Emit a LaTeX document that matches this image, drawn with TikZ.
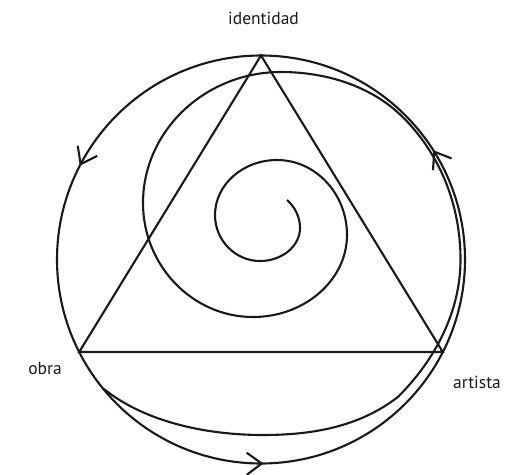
\documentclass[tikz,border=0pt]{standalone}
\usepackage{fontspec}
\setmainfont{PT Sans}
\usetikzlibrary{arrows.meta,decorations.markings}
\begin{document}
\begin{tikzpicture}[x=1pt,y=1pt,
  ln/.style={line width=2.1pt, draw=black!90},
  lbl/.style={inner sep=0pt, anchor=base, font=\fontsize{17.5}{20}\selectfont, text=black!90},
  barb/.tip={Straight Barb[length=15pt,width=22pt]}]
\useasboundingbox (0,0) rectangle (519,-474);
\coordinate (C) at (261,-259.5);
\coordinate (T) at (261,-55.5);
\coordinate (L) at (79.2,-352);
\coordinate (R) at (442.8,-352);
% circle with arrows
\draw[ln, postaction={decorate}, decoration={markings,
  mark=at position 0.09 with {\arrow[line width=2.1pt]{barb}},
  mark=at position 0.424 with {\arrow[line width=2.1pt]{barb}},
  mark=at position 0.752 with {\arrow[line width=2.1pt]{barb}}}]
  (C) circle[radius=204pt];
% triangle
\draw[ln] (T) -- (L) -- (R) -- cycle;
% spiral
\draw[ln] (287,-200) .. controls (295,-207) and (300,-217) .. (300,-228)
 .. controls (300,-246.2) and (282,-261) .. (260,-261)
 .. controls (235.2,-261) and (215,-240.3) .. (215,-215)
 .. controls (215,-184.7) and (242.9,-160) .. (277,-160)
 .. controls (315.6,-160) and (347,-193.7) .. (347,-235)
 .. controls (347,-280.1) and (304.7,-317) .. (253,-317)
 .. controls (192.5,-317) and (143,-265.7) .. (143,-203)
 .. controls (143,-130.9) and (205.1,-72) .. (281,-72)
 .. controls (325.7,-72) and (371.5,-85.8) .. (403.1,-117.4)
 .. controls (440.8,-155.1) and (460.5,-206.2) .. (460.5,-259.5)
 .. controls (460.5,-311.7) and (435.1,-359.8) .. (398.2,-396.7)
 .. controls (359.6,-426.9) and (312,-435) .. (263,-435)
 .. controls (203,-435) and (143,-420.5) .. (104,-389);
% labels
\node[lbl] (id) at (263.5,-24) {identidad};
\node[lbl] (ob) at (45,-374) {obra};
\node[lbl] (ar) at (477,-388) {artista};
\end{tikzpicture}
\end{document}
